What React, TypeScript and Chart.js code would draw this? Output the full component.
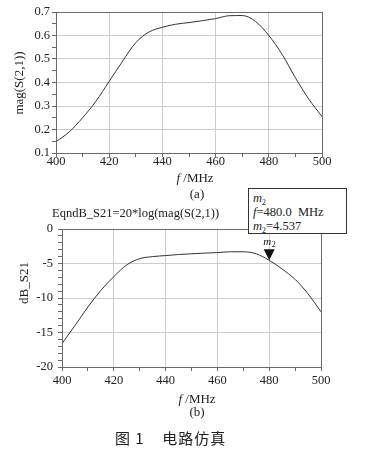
import React, { useEffect, useRef } from "react";
import { Chart, registerables } from "chart.js";

Chart.register(...registerables);

// ---------- data ----------
const freqs = [400, 405, 410, 415, 420, 425, 430, 435, 440, 445, 450, 455, 460, 465, 470, 475, 480, 485, 490, 495, 500];
const magS21 = [0.148, 0.19, 0.25, 0.32, 0.405, 0.49, 0.57, 0.615, 0.635, 0.648, 0.655, 0.663, 0.672, 0.684, 0.685, 0.66, 0.6, 0.52, 0.42, 0.33, 0.255];
const dbS21 = [-16.6, -14.0, -11.3, -8.9, -6.9, -5.2, -4.3, -4.0, -3.85, -3.7, -3.6, -3.5, -3.42, -3.3, -3.3, -3.6, -4.54, -5.8, -7.3, -9.4, -12.0];
const xTickValues = [400, 420, 440, 460, 480, 500];
const magTickValues = [0.1, 0.2, 0.3, 0.4, 0.5, 0.6, 0.7];
const dbTickValues = [-20, -15, -10, -5, 0];
const markerFreq = 480;
const markerValue = -4.537;

const SERIF = "'Liberation Serif', 'DejaVu Serif', serif";

const isIn = (v: number, list: number[]) => list.some((t) => Math.abs(t - v) < 1e-6);

const framePlugin = {
  id: "frame",
  afterDraw(chart: any) {
    const { ctx, chartArea: a } = chart;
    ctx.save();
    ctx.strokeStyle = "#6a6a6a";
    ctx.lineWidth = 1;
    ctx.strokeRect(Math.round(a.left) + 0.5, Math.round(a.top) + 0.5, Math.round(a.right - a.left), Math.round(a.bottom - a.top));
    ctx.restore();
  },
};

const markerPlugin = {
  id: "marker",
  afterDraw(chart: any) {
    const { ctx, scales } = chart;
    const px = scales.x.getPixelForValue(markerFreq);
    const py = scales.y.getPixelForValue(markerValue);
    ctx.save();
    ctx.fillStyle = "#111";
    ctx.beginPath();
    ctx.moveTo(px - 5.5, py - 11);
    ctx.lineTo(px + 5.5, py - 11);
    ctx.lineTo(px, py);
    ctx.closePath();
    ctx.fill();
    ctx.font = `italic 11px ${SERIF}`;
    ctx.textBaseline = "middle";
    ctx.textAlign = "left";
    ctx.fillText("m", px - 6, py - 18);
    ctx.font = `8px ${SERIF}`;
    ctx.fillText("2", px + 2.5, py - 15.5);
    ctx.restore();
  },
};

function buildOptions(cfg: {
  yMin: number; yMax: number; yStep: number; yMajor: number[];
  yWidth: number; xHeight: number; padTop: number; padRight: number;
  xPad: number; yPad: number; fmt: (v: number) => string;
}) {
  const tickFont = { family: SERIF, size: 12.5 };
  return {
    animation: false,
    responsive: false,
    devicePixelRatio: 1,
    layout: { padding: { left: 0, right: cfg.padRight, top: cfg.padTop, bottom: 0 } },
    plugins: { legend: { display: false }, tooltip: { enabled: false }, title: { display: false } },
    scales: {
      x: {
        type: "linear",
        min: 400,
        max: 500,
        afterFit: (s: any) => { s.height = cfg.xHeight; },
        ticks: {
          stepSize: 10,
          autoSkip: false,
          maxRotation: 0,
          padding: cfg.xPad,
          color: "#222",
          font: tickFont,
          callback: (v: any) => (isIn(Number(v), xTickValues) ? String(v) : ""),
        },
        grid: {
          color: (c: any) => (c.tick && isIn(c.tick.value, xTickValues) ? "#cccccc" : "rgba(0,0,0,0)"),
          tickColor: "#666",
          tickLength: 4,
          lineWidth: 1,
        },
        border: { display: true, color: "#6a6a6a" },
      },
      y: {
        type: "linear",
        min: cfg.yMin,
        max: cfg.yMax,
        afterFit: (s: any) => { s.width = cfg.yWidth; },
        ticks: {
          stepSize: cfg.yStep,
          autoSkip: false,
          padding: cfg.yPad,
          color: "#222",
          font: tickFont,
          callback: (v: any) => (isIn(Number(v), cfg.yMajor) ? cfg.fmt(Number(v)) : ""),
        },
        grid: {
          color: (c: any) => (c.tick && isIn(c.tick.value, cfg.yMajor) ? "#cccccc" : "rgba(0,0,0,0)"),
          tickColor: "#666",
          tickLength: 4,
          lineWidth: 1,
        },
        border: { display: true, color: "#6a6a6a" },
      },
    },
  } as any;
}

function useChart(ref: React.RefObject<HTMLCanvasElement>, make: (c: HTMLCanvasElement) => Chart) {
  useEffect(() => {
    if (!ref.current) return;
    const chart = make(ref.current);
    return () => chart.destroy();
  }, []);
}

const abs = (left: number, top: number, extra: React.CSSProperties = {}): React.CSSProperties => ({
  position: "absolute",
  left,
  top,
  fontFamily: SERIF,
  fontSize: 13,
  color: "#222",
  whiteSpace: "nowrap",
  lineHeight: 1,
  ...extra,
});

const Sub = ({ children }: { children: React.ReactNode }) => (
  <span style={{ fontSize: 8, position: "relative", top: 3, lineHeight: 0 }}>{children}</span>
);

const lineStyle: React.CSSProperties = { height: 14, lineHeight: "14px" };

export default function App() {
  const topRef = useRef<HTMLCanvasElement>(null);
  const botRef = useRef<HTMLCanvasElement>(null);

  useChart(topRef, (c) =>
    new Chart(c, {
      type: "line",
      data: {
        datasets: [
          {
            data: freqs.map((f, i) => ({ x: f, y: magS21[i] })),
            borderColor: "#333",
            borderWidth: 1,
            pointRadius: 0,
            cubicInterpolationMode: "monotone",
          },
        ],
      },
      options: buildOptions({
        yMin: 0.1, yMax: 0.7, yStep: 0.05, yMajor: magTickValues,
        yWidth: 56, xHeight: 22, padTop: 12, padRight: 45,
        xPad: -3, yPad: 2, fmt: (v) => v.toFixed(1),
      }),
      plugins: [framePlugin],
    } as any)
  );

  useChart(botRef, (c) =>
    new Chart(c, {
      type: "line",
      data: {
        datasets: [
          {
            data: freqs.map((f, i) => ({ x: f, y: dbS21[i] })),
            borderColor: "#333",
            borderWidth: 1,
            pointRadius: 0,
            cubicInterpolationMode: "monotone",
          },
        ],
      },
      options: buildOptions({
        yMin: -20, yMax: 0, yStep: 1, yMajor: dbTickValues,
        yWidth: 62, xHeight: 28, padTop: 49, padRight: 46,
        xPad: 2, yPad: 5, fmt: (v) => String(Math.round(v)),
      }),
      plugins: [framePlugin, markerPlugin],
    } as any)
  );

  return (
    <div style={{ position: "absolute", left: 0, top: 0, width: 367, height: 462, background: "#fff", overflow: "hidden" }}>
      <canvas ref={topRef} width={367} height={175} style={{ position: "absolute", left: 0, top: 0, width: 367, height: 175 }} />
      <canvas ref={botRef} width={367} height={215} style={{ position: "absolute", left: 0, top: 180, width: 367, height: 215 }} />

      {/* top chart texts */}
      <div style={abs(18, 83, { transform: "translate(-50%, -50%) rotate(-90deg)" })}>mag(S(2,1))</div>
      <div style={abs(195, 177, { transform: "translate(-50%, -50%)" })}>
        <i>f</i> /MHz
      </div>
      <div style={abs(197, 193, { transform: "translate(-50%, -50%)" })}>(a)</div>

      {/* bottom chart texts */}
      <div style={abs(52, 213, { transform: "translateY(-50%)", fontSize: 12.5 })}>EqndB_S21=20*log(mag(S(2,1))</div>
      <div style={abs(23, 283, { transform: "translate(-50%, -50%) rotate(-90deg)" })}>dB_S21</div>
      <div style={abs(197, 398, { transform: "translate(-50%, -50%)" })}>
        <i>f</i> /MHz
      </div>
      <div style={abs(197, 411, { transform: "translate(-50%, -50%)" })}>(b)</div>

      {/* marker readout box */}
      <div
        style={abs(248, 188, {
          width: 99,
          height: 46,
          boxSizing: "border-box",
          border: "1px solid #333",
          background: "#fff",
          padding: "2px 0 0 4px",
          fontSize: 12.5,
        })}
      >
        <div style={lineStyle}>
          <i>m</i>
          <Sub>2</Sub>
        </div>
        <div style={lineStyle}>
          <i>f</i>=480.0&nbsp;&nbsp;MHz
        </div>
        <div style={lineStyle}>
          <i>m</i>
          <Sub>2</Sub>=4.537
        </div>
      </div>

      {/* figure caption */}
      <div style={abs(115, 437, { transform: "translateY(-50%)", fontFamily: "'Noto Sans CJK SC', sans-serif", fontSize: 15, letterSpacing: 1 })}>
        图 1&nbsp;&nbsp;&nbsp;&nbsp;电路仿真
      </div>
    </div>
  );
}
